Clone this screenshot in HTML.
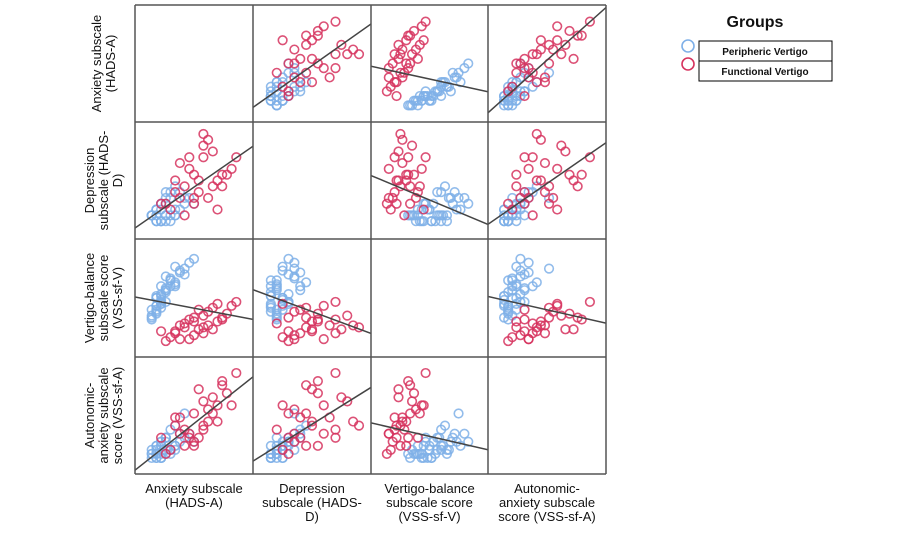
<!DOCTYPE html>
<html><head><meta charset="utf-8"><style>
body{margin:0;background:#fff;}
svg text{font-family:"Liberation Sans",sans-serif;fill:#111;}
</style></head><body>
<svg id="c" width="907" height="535" xmlns="http://www.w3.org/2000/svg">
<g id="legend">
<text x="755" y="27" font-size="16" font-weight="bold" text-anchor="middle">Groups</text>
<circle cx="688" cy="46" r="6" fill="none" stroke="#7fb0e8" stroke-width="1.6"/>
<circle cx="688" cy="64" r="6" fill="none" stroke="#d6335e" stroke-width="1.6"/>
<rect x="699" y="41" width="133" height="20" fill="none" stroke="#000"/>
<rect x="699" y="61" width="133" height="20" fill="none" stroke="#000"/>
<text x="765" y="55" font-size="10" font-weight="bold" text-anchor="middle">Peripheric Vertigo</text>
<text x="765" y="75" font-size="10" font-weight="bold" text-anchor="middle">Functional Vertigo</text>
</g>
</svg>
<script>
// data per subject: A = HADS-A, D = HADS-D, V = VSS-sf-V, S = VSS-sf-A
const blueA=[2,3,1,4,2,5,3,6,2,4,7,3,5,1,2,8,4,3,6,9,2,5,4,3,10,1,6,2,3,4,7,5,2,3,8,4,1,6,3,2];
const blueD=[3,1,2,5,1,2,4,3,2,6,3,1,6,2,3,4,1,4,7,5,1,5,2,3,4,2,2,1,4,2,6,1,3,1,5,4,2,2,1,3];
const blueV=[20,30,18,35,25,33,22,40,16,28,38,19,30,14,24,36,27,21,32,42,17,34,29,23,44,15,31,20,26,28,37,33,18,25,39,22,13,30,21,24];
const blueS=[1,4,2,5,1,3,5,4,2,6,5,2,8,1,3,6,2,4,9,7,2,3,6,1,5,3,4,2,5,3,7,2,4,1,12,6,2,3,1,4];
const redA=[15,12,18,8,10,14,6,11,16,9,13,7,19,5,12,10,17,8,14,11,4,9,13,6,15,10,12,7,16,3];
const redD=[8,12,10,7,4,13,8,6,9,10,5,11,12,3,14,5,9,2,7,8,4,12,15,6,3,9,16,5,7,4];
const redV=[12,6,20,9,14,8,7,18,13,3,17,10,22,4,15,5,16,11,19,8,2,13,10,6,21,12,9,3,14,7];
const redS=[10,8,14,4,12,16,9,6,20,7,13,11,22,3,15,5,17,8,12,18,2,6,10,11,14,4,9,7,19,6];
const domMin=[0,0,0,0];
const domMax=[20,16,48,23];
const varNames=["anxiety","depression","vertigo","autonomic"];
const rowLabels=[["Anxiety subscale","(HADS-A)"],["Depression","subscale (HADS-","D)"],["Vertigo-balance","subscale score","(VSS-sf-V)"],["Autonomic-","anxiety subscale","score (VSS-sf-A)"]];
const colLabels=[["Anxiety subscale","(HADS-A)"],["Depression","subscale (HADS-","D)"],["Vertigo-balance","subscale score","(VSS-sf-V)"],["Autonomic-","anxiety subscale","score (VSS-sf-A)"]];

const NS="http://www.w3.org/2000/svg";
const svg=document.getElementById('c');
const gx=[135,253,371,488,606], gy=[5,122,239,357,474], pad=12;
const blue=[blueA,blueD,blueV,blueS], red=[redA,redD,redV,redS];
function sx(c,v){return gx[c]+pad+(v-domMin[c])/(domMax[c]-domMin[c])*(gx[c+1]-gx[c]-2*pad);}
function sy(r,v){return gy[r+1]-pad-(v-domMin[r])/(domMax[r]-domMin[r])*(gy[r+1]-gy[r]-2*pad);}
function mk(t,a){const e=document.createElementNS(NS,t);for(const k in a)e.setAttribute(k,a[k]);svg.appendChild(e);return e;}

for(let r=0;r<4;r++)for(let c=0;c<4;c++){
  if(r===c)continue;
  const g=document.createElementNS(NS,'g');svg.appendChild(g);
  
  
  const cp=document.createElementNS(NS,'clipPath');cp.setAttribute('id','cp'+r+c);
  const cr=document.createElementNS(NS,'rect');cr.setAttribute('x',gx[c]);cr.setAttribute('y',gy[r]);cr.setAttribute('width',gx[c+1]-gx[c]);cr.setAttribute('height',gy[r+1]-gy[r]);
  cp.appendChild(cr);g.appendChild(cp);
  [[blue,'#7fb0e8','peripheric'],[red,'#d6335e','functional']].forEach(([d,col,nm])=>{
    for(let i=0;i<d[0].length;i++){
      const e=document.createElementNS(NS,'circle');
      e.setAttribute('cx',sx(c,d[c][i]));e.setAttribute('cy',sy(r,d[r][i]));e.setAttribute('r',4.3);
      e.setAttribute('fill','none');e.setAttribute('stroke',col);e.setAttribute('stroke-width',1.6);e.setAttribute('stroke-opacity',0.85);
      
      
      g.appendChild(e);
    }
  });
  const xs=blue[c].concat(red[c]), ys=blue[r].concat(red[r]);
  const n=xs.length, mx=xs.reduce((a,b)=>a+b)/n, my=ys.reduce((a,b)=>a+b)/n;
  let sxy=0,sxx=0;for(let i=0;i<n;i++){sxy+=(xs[i]-mx)*(ys[i]-my);sxx+=(xs[i]-mx)**2;}
  const b=sxy/sxx,a=my-b*mx;
  const x0=domMin[c]-(domMax[c]-domMin[c])*pad/(gx[c+1]-gx[c]-2*pad), x1=domMax[c]+(domMax[c]-domMin[c])*pad/(gx[c+1]-gx[c]-2*pad);
  const l=document.createElementNS(NS,'line');
  l.setAttribute('x1',sx(c,x0));l.setAttribute('y1',sy(r,a+b*x0));l.setAttribute('x2',sx(c,x1));l.setAttribute('y2',sy(r,a+b*x1));
  l.setAttribute('stroke','#444');l.setAttribute('stroke-width',1.5);l.setAttribute('clip-path','url(#cp'+r+c+')');
  
  
  g.appendChild(l);
}
for(let i=0;i<5;i++){
  const h=mk('line',{x1:gx[0],x2:gx[4],y1:gy[i],y2:gy[i],stroke:'#555','stroke-width':1.5});
  
  
  const v=mk('line',{x1:gx[i],x2:gx[i],y1:gy[0],y2:gy[4],stroke:'#555','stroke-width':1.5});
  
  
}
for(let r=0;r<4;r++){
  const cy=(gy[r]+gy[r+1])/2, L=rowLabels[r], x=104;
  const t=mk('text',{transform:'translate('+x+','+cy+') rotate(-90)','font-size':13,'text-anchor':'middle'});
  
  
  L.forEach((s,k)=>{const ts=document.createElementNS(NS,'tspan');ts.setAttribute('x',0);ts.setAttribute('y',(k-(L.length-1)/2)*14+4);ts.textContent=s;t.appendChild(ts);});
}
for(let c=0;c<4;c++){
  const cx=(gx[c]+gx[c+1])/2, L=colLabels[c];
  const t=mk('text',{'font-size':13,'text-anchor':'middle'});
  
  
  L.forEach((s,k)=>{const ts=document.createElementNS(NS,'tspan');ts.setAttribute('x',cx);ts.setAttribute('y',493+k*14);ts.textContent=s;t.appendChild(ts);});
}
</script>
</body></html>
